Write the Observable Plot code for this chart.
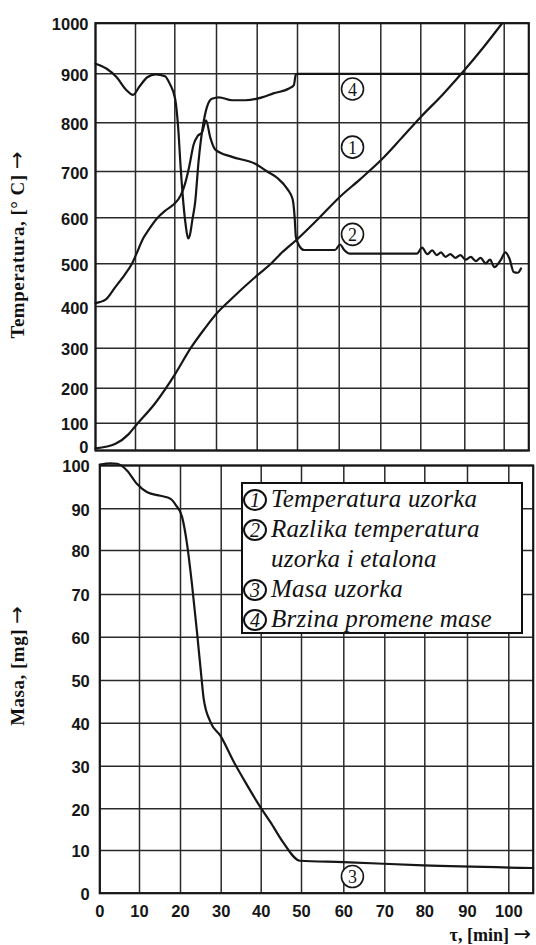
<!DOCTYPE html>
<html>
<head>
<meta charset="utf-8">
<script src="https://cdn.jsdelivr.net/npm/d3@7"></script>
<script src="https://cdn.jsdelivr.net/npm/@observablehq/plot@0.6"></script>
<style>
  html, body { margin: 0; padding: 0; background: #fff; }
  #wrap { position: relative; width: 536px; height: 945px; overflow: hidden; background: #fff; }
  #wrap svg { display: block; }
  .ylab { position: absolute; font: bold 19px "Liberation Serif", "Times New Roman", serif; letter-spacing: 0.5px;
          white-space: nowrap; color: #111; transform: translate(-50%, -50%) rotate(-90deg); }
  .xlab { position: absolute; font: bold 18px "Liberation Serif", "Times New Roman", serif; white-space: nowrap; color: #111; }
  .arr { font: normal 21px "DejaVu Sans", sans-serif; letter-spacing: 0; }
  #legend { position: absolute; box-sizing: border-box; background: #fff; border: 2px solid #111; }
  .lrow { position: absolute; left: 0; height: 30px; line-height: 30px; white-space: nowrap;
          font: italic 25px "Liberation Serif", "Times New Roman", serif; letter-spacing: 0.2px; color: #111; }
  .lcirc { position: absolute; box-sizing: border-box; width: 24px; height: 22px; border: 2px solid #111; border-radius: 50%;
           font: italic 20px "Liberation Serif", "Times New Roman", serif; line-height: 19px; text-align: center; color: #111; }
</style>
</head>
<body>
<div id="wrap"></div>
<script>
// ---- ticks / categories ----
const minuteTicks = [0, 10, 20, 30, 40, 50, 60, 70, 80, 90, 100];
const tempTicks = [0, 100, 200, 300, 400, 500, 600, 700, 800, 900, 1000];
const massTicks = [0, 10, 20, 30, 40, 50, 60, 70, 80, 90, 100];

// ---- series 1: Temperatura uzorka [°C] ----
const tempTime  = [0, 5, 8.3, 10, 15, 20, 23.8, 27.1, 30.3, 32.8, 40, 43.4, 46.2, 50, 55, 60, 65, 70, 75, 80, 85, 89.5, 95, 99.5];
const tempValue = [8, 25, 60, 90, 157, 234, 300, 346, 386, 410, 473, 500, 525, 554, 598, 644, 683, 723, 767, 812, 858, 903, 955, 1000];

// ---- series 2: Razlika temperatura uzorka i etalona ----
const dtaTime  = [0, 2.5, 5, 7.5, 9.1, 10.2, 12, 13.2, 15.4, 17.5, 19.6, 21.5, 22.5, 23.5, 24.5, 25.5, 26.5, 27.5, 28.5, 29.7, 33.8,
                  39.5, 42.5, 45, 47.5, 48.8, 49.3, 49.6, 50.5, 51.6, 59, 60.2, 61.2, 62.6, 79, 80.3, 81.5, 82.6, 83.6, 84.6, 85.6,
                  86.7, 87.9, 89, 90.2, 91.5, 92.8, 94, 95.3, 96.4, 97.5, 99.1, 100.3, 101.3, 102.3, 103.3, 104.1];
const dtaValue = [408, 416, 446, 477, 500, 521, 556, 572, 598, 615, 628, 650, 675, 712, 755, 773, 780, 805, 770, 745, 730,
                  716, 700, 686, 662, 640, 600, 558, 538, 530, 530, 542, 530, 522, 522, 535, 521, 529, 519, 525, 515,
                  521, 513, 519, 509, 515, 506, 513, 501, 509, 492, 508, 525, 511, 481, 479, 489];

// ---- series 4: Brzina promene mase ----
const dtgTime  = [0, 2.8, 5.3, 7.7, 9.4, 11, 13, 15.1, 17.5, 18.7, 20.1, 20.8, 21.4, 22, 22.6, 23.2, 23.7, 24.2, 24.9, 25.7,
                  26.7, 27.7, 28.9, 30.6, 33.8, 37.1, 41.2, 44, 47.9, 49.1, 49.6, 50, 106];
const dtgValue = [920, 910, 893, 867, 857, 874, 893, 899, 895, 880, 848, 791, 709, 637, 585, 555, 566, 595, 635, 721,
                  791, 832, 849, 852, 846, 846, 852, 860, 870, 877, 899, 900, 900];

// ---- series 3: Masa uzorka [mg] ----
const massTime  = [0, 2.7, 4.4, 6.9, 9.4, 11.9, 15.1, 17.6, 18.9, 20.4, 21.6, 22.8, 24.1, 25.3, 25.7, 27.4, 29.8, 33.2, 36.5, 39.8,
                   42.3, 45.4, 49.6, 59.9, 79.6, 106];
const massValue = [100.2, 100.5, 100.4, 98.8, 95.7, 93.8, 93.0, 92.3, 90.8, 88.0, 81.6, 72.5, 60.8, 49.2, 45.7, 40.2, 37.1, 30.9, 25.5, 20.4,
                   16.8, 12.0, 7.6, 7.3, 6.5, 5.9];

// ---- curve annotations (circled numbers) ----
const topNotes = [{n: "4", t: 63.2, v: 869}, {n: "1", t: 63.2, v: 750}, {n: "2", t: 63.2, v: 564}];
const bottomNotes = [{n: "3", t: 62.1, v: 3.9}];

// ---- legend ----
const legendRows = [
  {n: "1", label: "Temperatura uzorka"},
  {n: "2", label: "Razlika temperatura"},
  {n: "",  label: "uzorka i etalona"},
  {n: "3", label: "Masa uzorka"},
  {n: "4", label: "Brzina promene mase"}
];

const zipSeries = (xs, ys) => xs.map((x, i) => ({t: x, v: ys[i]}));
const temp = zipSeries(tempTime, tempValue);
const dta = zipSeries(dtaTime, dtaValue);
const dtg = zipSeries(dtgTime, dtgValue);
const mass = zipSeries(massTime, massValue);

// layout (scanned graph paper is slightly uneven -> piecewise scales)
const xDomain = [...minuteTicks, 106];
const topH = 458, botH = 487;
const topXRange = [95, 135, 174.3, 216, 256.7, 297, 338.7, 380.3, 420.3, 464.3, 503.7, 528.3];
const topYRange = [450, 422.7, 387.7, 347.7, 306, 263.3, 217.3, 171, 122.3, 73.3, 22.7];
const botXRange = [99.3, 139, 180, 220.7, 260.7, 301, 343.3, 384.3, 424.3, 467, 508.3, 532.7];
const botYRange = [892.7, 850, 808.3, 765.7, 722.7, 680, 636.7, 594, 550, 508.3, 465].map(d => d - topH);

const ink = "#161616";
const gridInk = "#2a2a2a";
const fmt = d => String(d);
const baseStyle = {fontFamily: "'Liberation Sans', Arial, sans-serif", fontSize: "16.5px", fontWeight: "bold",
                   background: "transparent", color: ink, overflow: "visible"};

const topPlot = Plot.plot({
  width: 536, height: topH,
  marginLeft: topXRange[0], marginRight: 536 - topXRange[topXRange.length - 1],
  marginTop: topYRange[topYRange.length - 1], marginBottom: topH - topYRange[0],
  style: baseStyle,
  x: {type: "linear", domain: xDomain, range: topXRange, axis: null},
  y: {type: "linear", domain: tempTicks, range: topYRange},
  marks: [
    Plot.ruleX(minuteTicks, {stroke: gridInk, strokeWidth: 1.5}),
    Plot.ruleY(tempTicks, {stroke: gridInk, strokeWidth: 1.5}),
    Plot.frame({stroke: ink, strokeWidth: 2.2}),
    Plot.axisY({ticks: tempTicks.slice(1), tickSize: 0, tickPadding: 7, label: null, tickFormat: fmt, dy: 2}),
    Plot.axisY({ticks: tempTicks.slice(0, 1), tickSize: 0, tickPadding: 7, label: null, tickFormat: fmt, dy: -3}),
    Plot.line(temp, {x: "t", y: "v", stroke: ink, strokeWidth: 2.2, curve: "monotone-x"}),
    Plot.line(dta, {x: "t", y: "v", stroke: ink, strokeWidth: 2.2, curve: "monotone-x"}),
    Plot.line(dtg, {x: "t", y: "v", stroke: ink, strokeWidth: 2.2, curve: "monotone-x"}),
    Plot.dot(topNotes, {x: "t", y: "v", r: 11, fill: "white", stroke: ink, strokeWidth: 1.6}),
    Plot.text(topNotes, {x: "t", y: "v", text: "n", fill: ink, fontSize: 18, fontWeight: "normal",
                         fontFamily: "'Liberation Serif', serif", dy: 1})
  ]
});

const botPlot = Plot.plot({
  width: 536, height: botH,
  marginLeft: botXRange[0], marginRight: 536 - botXRange[botXRange.length - 1],
  marginTop: botYRange[botYRange.length - 1], marginBottom: botH - botYRange[0],
  style: baseStyle,
  x: {type: "linear", domain: xDomain, range: botXRange},
  y: {type: "linear", domain: massTicks, range: botYRange},
  marks: [
    Plot.ruleX(minuteTicks, {stroke: gridInk, strokeWidth: 1.5}),
    Plot.ruleY(massTicks, {stroke: gridInk, strokeWidth: 1.5}),
    Plot.frame({stroke: ink, strokeWidth: 2.2}),
    Plot.axisY({ticks: massTicks, tickSize: 0, tickPadding: 10, label: null, tickFormat: fmt, dy: 1.5}),
    Plot.axisX({ticks: minuteTicks, tickSize: 0, tickPadding: 12, label: null, tickFormat: fmt}),
    Plot.line(mass, {x: "t", y: "v", stroke: ink, strokeWidth: 2.2, curve: "monotone-x"}),
    Plot.dot(bottomNotes, {x: "t", y: "v", r: 11, fill: "white", stroke: ink, strokeWidth: 1.6}),
    Plot.text(bottomNotes, {x: "t", y: "v", text: "n", fill: ink, fontSize: 18, fontWeight: "normal",
                            fontFamily: "'Liberation Serif', serif", dy: 1})
  ]
});

const wrap = document.getElementById("wrap");
wrap.appendChild(topPlot);
wrap.appendChild(botPlot);

// axis titles (text + long arrow)
function addLabel(cls, text, css) {
  const d = document.createElement("div");
  d.className = cls;
  d.appendChild(document.createTextNode(text + " "));
  const a = document.createElement("span");
  a.className = "arr";
  a.textContent = "→";
  d.appendChild(a);
  Object.assign(d.style, css);
  wrap.appendChild(d);
  return d;
}
addLabel("ylab", "Temperatura, [° C]", {left: "17px", top: "245px"});
addLabel("ylab", "Masa, [mg]", {left: "17px", top: "666px"});
addLabel("xlab", "τ, [min]", {right: "5px", top: "922px"});

// legend box
const lg = document.createElement("div");
lg.id = "legend";
Object.assign(lg.style, {left: "241px", top: "482px", width: "282px", height: "152px"});
legendRows.forEach((r, i) => {
  const row = document.createElement("div");
  row.className = "lrow";
  row.style.top = (i * 30 + 0.5) + "px";
  row.style.left = "28px";
  row.textContent = r.label;
  lg.appendChild(row);
  if (r.n) {
    const c = document.createElement("div");
    c.className = "lcirc";
    c.textContent = r.n;
    c.style.left = "0px";
    c.style.top = (i * 30 + 4.5) + "px";
    lg.appendChild(c);
  }
});
wrap.appendChild(lg);
</script>
</body>
</html>
